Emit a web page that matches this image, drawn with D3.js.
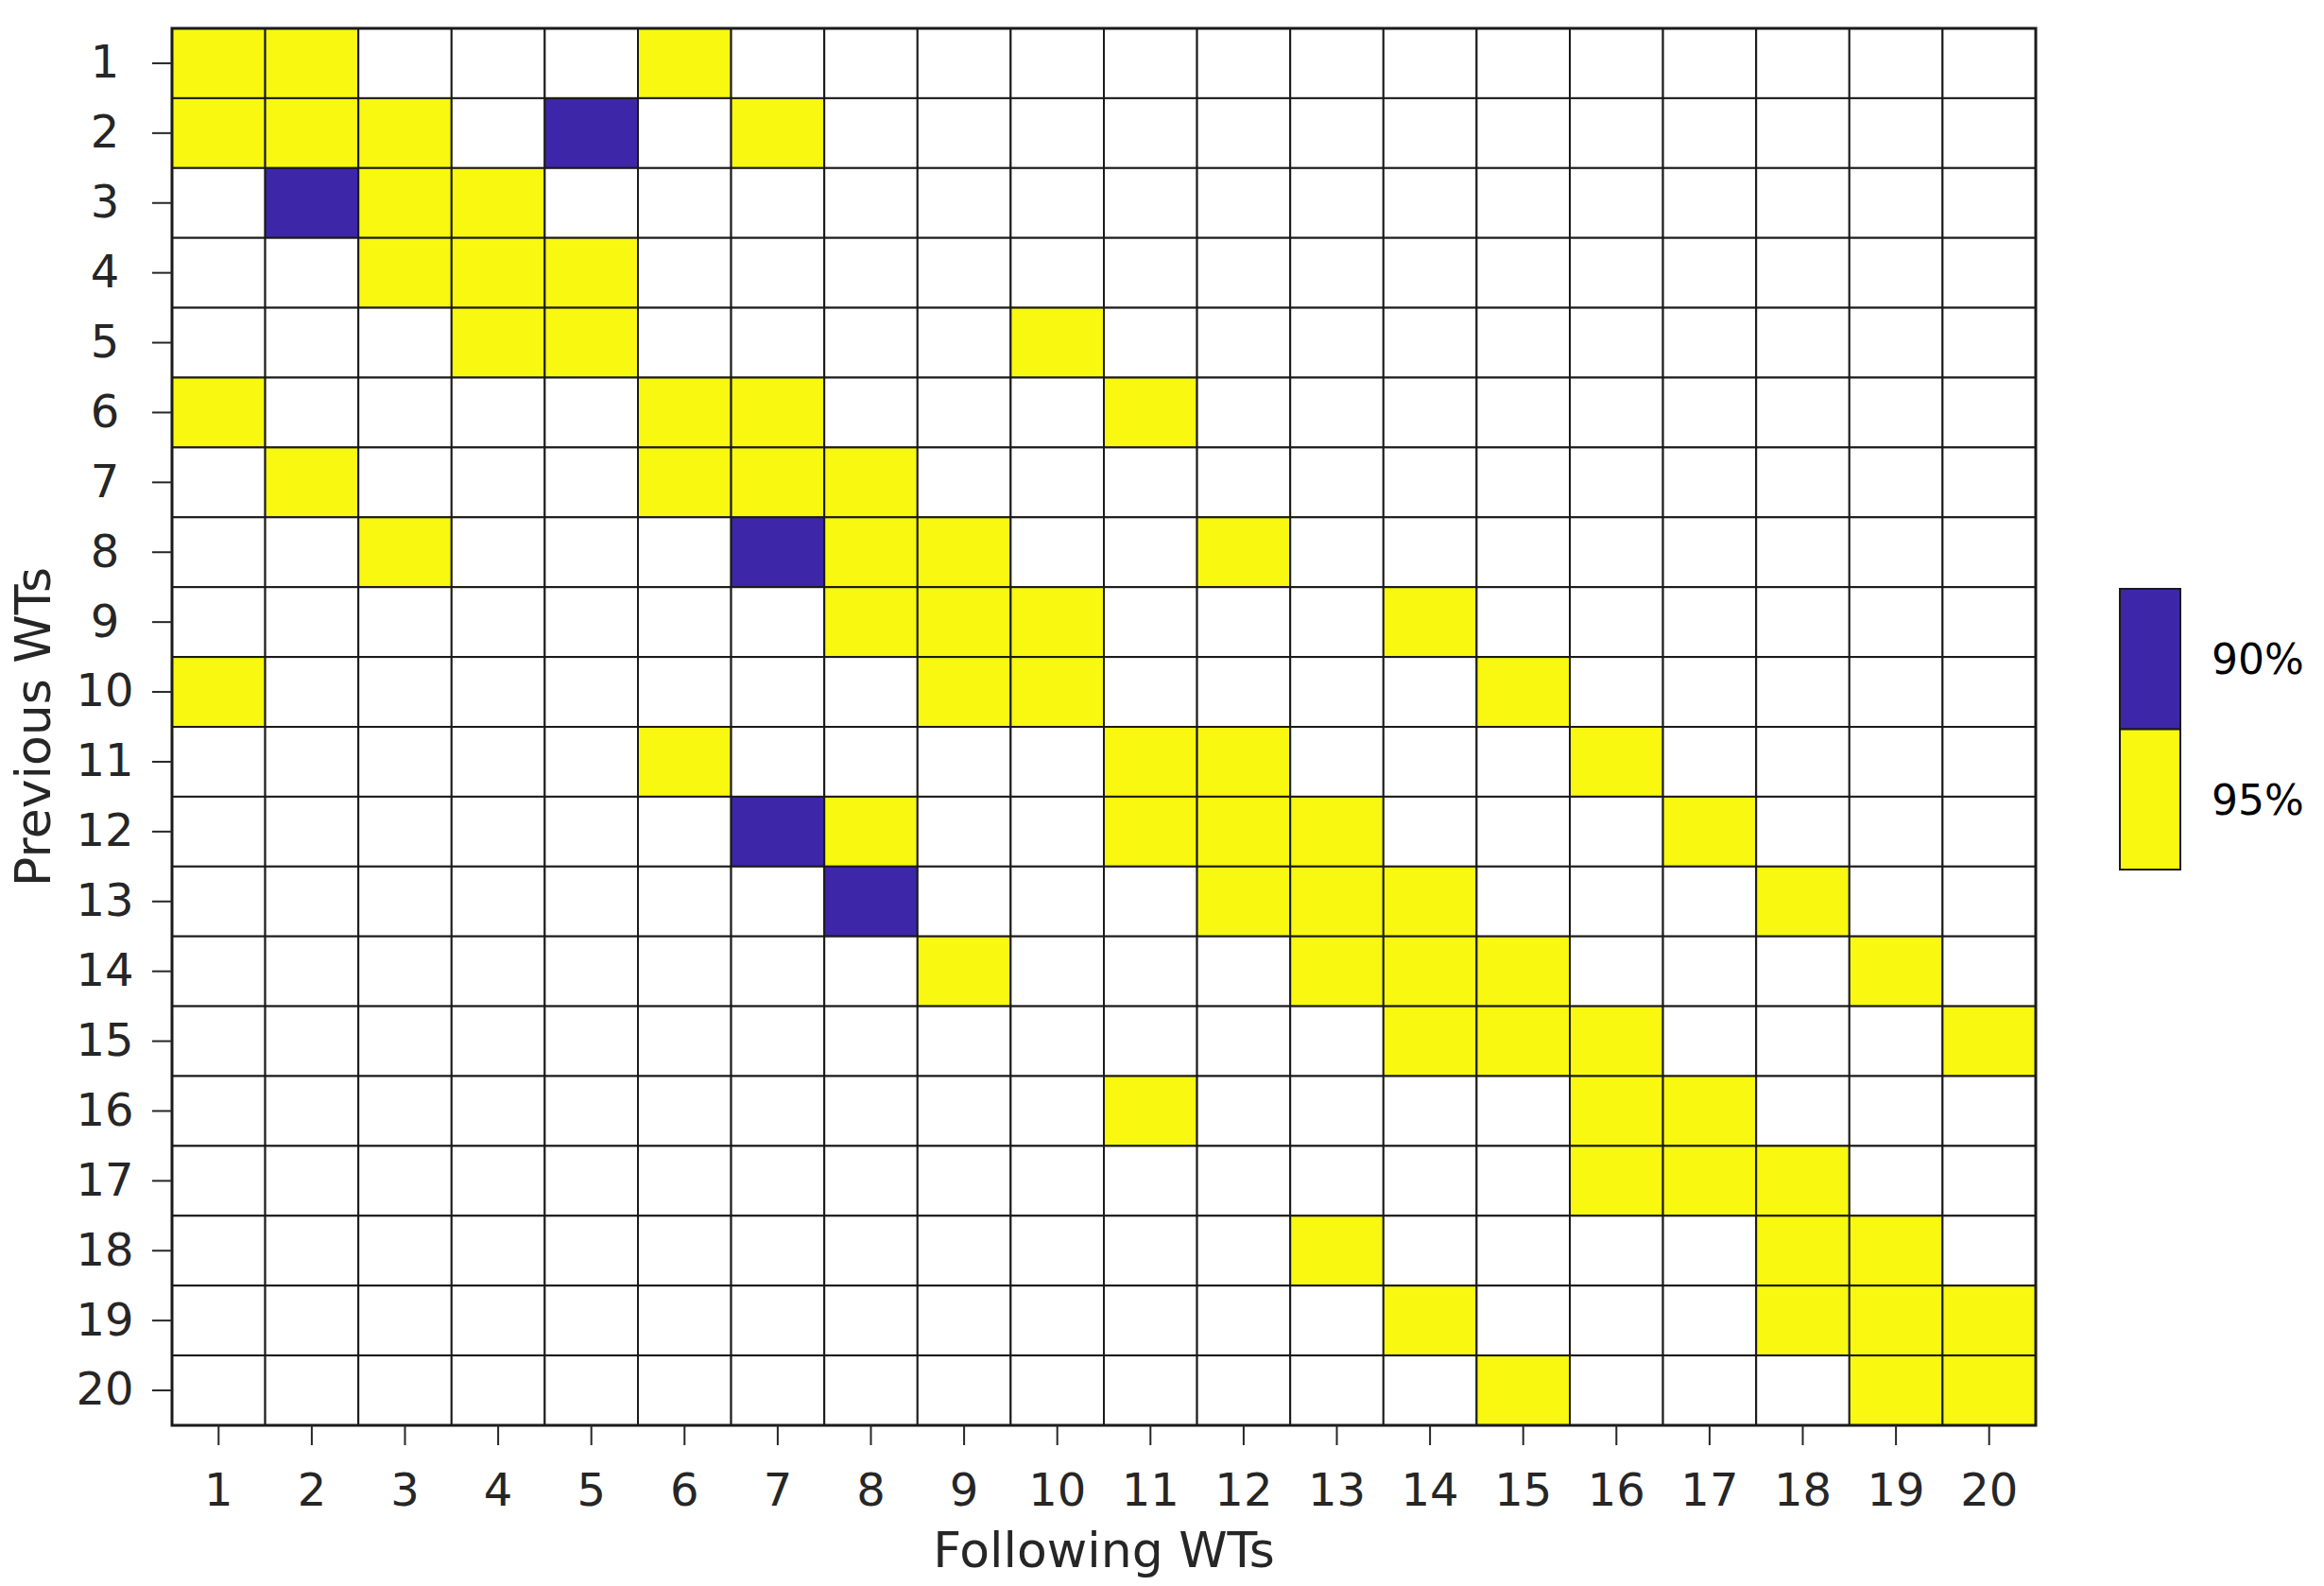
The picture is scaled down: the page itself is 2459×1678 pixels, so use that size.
<!DOCTYPE html>
<html>
<head>
<meta charset="utf-8">
<script src="https://cdn.jsdelivr.net/npm/d3@7"></script>
<style>
  html, body { margin: 0; padding: 0; background: #fff; }
  text { font-family: 'DejaVu Sans', sans-serif; }
</style>
</head>
<body>
<div id="chart"></div>
<script>
const previousWTs = d3.range(1, 21)
const followingWTs = d3.range(1, 21)
const levels = ['90%', '95%']

// [previous WT, following WT] pairs per significance level
const cells95 = [
  [1, 1], [1, 2], [1, 6],
  [2, 1], [2, 2], [2, 3], [2, 7],
  [3, 3], [3, 4],
  [4, 3], [4, 4], [4, 5],
  [5, 4], [5, 5], [5, 10],
  [6, 1], [6, 6], [6, 7], [6, 11],
  [7, 2], [7, 6], [7, 7], [7, 8],
  [8, 3], [8, 8], [8, 9], [8, 12],
  [9, 8], [9, 9], [9, 10], [9, 14],
  [10, 1], [10, 9], [10, 10], [10, 15],
  [11, 6], [11, 11], [11, 12], [11, 16],
  [12, 8], [12, 11], [12, 12], [12, 13], [12, 17],
  [13, 12], [13, 13], [13, 14], [13, 18],
  [14, 9], [14, 13], [14, 14], [14, 15], [14, 19],
  [15, 14], [15, 15], [15, 16], [15, 20],
  [16, 11], [16, 16], [16, 17],
  [17, 16], [17, 17], [17, 18],
  [18, 13], [18, 18], [18, 19],
  [19, 14], [19, 18], [19, 19], [19, 20],
  [20, 15], [20, 19], [20, 20]
]
const cells90 = [
  [2, 5], [3, 2], [8, 7], [12, 7], [13, 8]
]

const width = 2459
const height = 1678
const margin = { top: 30, right: 305, bottom: 170, left: 182 }

const lookup = new Map()
cells95.forEach(([p, f]) => lookup.set(`${p}-${f}`, '95%'))
cells90.forEach(([p, f]) => lookup.set(`${p}-${f}`, '90%'))

const grid = []
previousWTs.forEach(p => followingWTs.forEach(f => {
  grid.push({ p, f, level: lookup.get(`${p}-${f}`) })
}))

const x = d3.scaleBand()
  .domain(followingWTs)
  .range([margin.left, width - margin.right])

const y = d3.scaleBand()
  .domain(previousWTs)
  .range([margin.top, height - margin.bottom])

const color = d3.scaleOrdinal()
  .domain(levels)
  .range(['#3d27a8', '#f8f810'])

const svg = d3.select('#chart').append('svg')
  .attr('width', width)
  .attr('height', height)

svg.append('g')
  .selectAll('rect')
  .data(grid).enter()
  .append('rect')
  .attr('x', d => x(d.f))
  .attr('y', d => y(d.p))
  .attr('width', x.bandwidth())
  .attr('height', y.bandwidth())
  .attr('fill', d => d.level ? color(d.level) : '#fff')
  .attr('stroke', '#1a1a1a')
  .attr('stroke-width', 2)

svg.append('rect')
  .attr('x', margin.left)
  .attr('y', margin.top)
  .attr('width', width - margin.right - margin.left)
  .attr('height', height - margin.bottom - margin.top)
  .attr('fill', 'none')
  .attr('stroke', '#1a1a1a')
  .attr('stroke-width', 3)

const xAxis = g => g
  .attr('transform', `translate(0, ${height - margin.bottom})`)
  .call(d3.axisBottom(x).tickSizeOuter(0).tickSizeInner(21).tickPadding(30))
  .call(g => g.select('.domain').remove())
  .call(g => g.selectAll('.tick line').attr('stroke', '#262626').attr('stroke-width', 2))
  .call(g => g.selectAll('.tick text')
    .attr('fill', '#262626')
    .attr('font-size', '48px')
    .attr('font-family', 'DejaVu Sans, sans-serif'))

const yAxis = g => g
  .attr('transform', `translate(${margin.left}, 0)`)
  .call(d3.axisLeft(y).tickSizeOuter(0).tickSizeInner(21).tickPadding(0))
  .call(g => g.select('.domain').remove())
  .call(g => g.selectAll('.tick line').attr('stroke', '#262626').attr('stroke-width', 2))
  .call(g => g.selectAll('.tick text')
    .attr('x', -71)
    .attr('text-anchor', 'middle')
    .attr('fill', '#262626')
    .attr('font-size', '48px')
    .attr('font-family', 'DejaVu Sans, sans-serif'))

svg.append('g').call(xAxis)
svg.append('g').call(yAxis)

svg.append('text')
  .attr('x', (margin.left + width - margin.right) / 2)
  .attr('y', 1658)
  .attr('text-anchor', 'middle')
  .attr('fill', '#262626')
  .attr('font-size', '52px')
  .text('Following WTs')

svg.append('text')
  .attr('transform', `translate(53, ${(margin.top + height - margin.bottom) / 2}) rotate(-90)`)
  .attr('text-anchor', 'middle')
  .attr('fill', '#262626')
  .attr('font-size', '52px')
  .text('Previous WTs')

// legend
const legendY = d3.scaleBand()
  .domain(levels)
  .range([623, 920])

const legend = svg.append('g')
  .attr('transform', 'translate(2243, 0)')

legend.selectAll('rect')
  .data(levels).enter()
  .append('rect')
  .attr('x', 0)
  .attr('y', d => legendY(d))
  .attr('width', 64)
  .attr('height', legendY.bandwidth())
  .attr('fill', d => color(d))
  .attr('stroke', '#1a1a1a')
  .attr('stroke-width', 2)

legend.selectAll('text')
  .data(levels).enter()
  .append('text')
  .attr('x', 97)
  .attr('y', d => legendY(d) + legendY.bandwidth() / 2)
  .attr('dy', '0.36em')
  .attr('fill', '#000')
  .attr('font-size', '44px')
  .text(d => d)
</script>
</body>
</html>
